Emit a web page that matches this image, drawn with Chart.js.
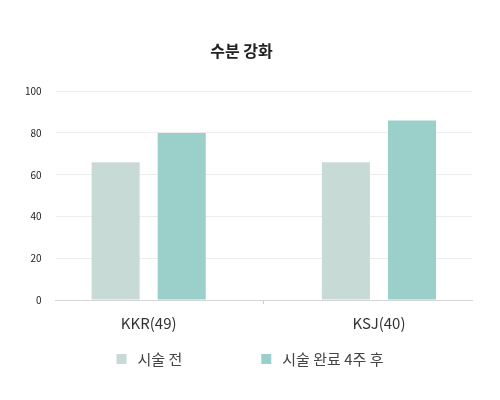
<!DOCTYPE html>
<html>
<head>
<meta charset="utf-8">
<script src="https://cdn.jsdelivr.net/npm/chart.js@4"></script>
<style>
  html, body { margin: 0; padding: 0; background: #fff; }
  #wrap { width: 500px; height: 400px; }
</style>
</head>
<body>
<div id="wrap"><canvas id="chart"></canvas></div>
<script>
const categories = ['KKR(49)', 'KSJ(40)'];
const seriesNames = ['시술 전', '시술 완료 4주 후'];
const beforeValues = [66, 66];
const afterValues = [80, 86];
const seriesColors = ['#c8dad6', '#9ad0c9'];
const yTicks = [0, 20, 40, 60, 80, 100];

const font = "'Noto Sans CJK KR', 'Noto Sans', sans-serif";

// legend drawn by hand: the items sit far apart, more than legend padding allows
const bottomLegend = {
  id: 'bottomLegend',
  afterDraw(chart) {
    const ctx = chart.ctx;
    const sets = chart.data.datasets;
    const box = 10, gapText = 11, gapItem = 79;
    ctx.save();
    ctx.font = '15px ' + font;
    ctx.textBaseline = 'middle';
    const widths = sets.map(d => box + gapText + ctx.measureText(d.label).width);
    const total = widths.reduce((a, b) => a + b, 0) + gapItem * (sets.length - 1);
    let x = chart.width / 2 - total / 2;
    const y = chart.height - 41;
    sets.forEach((d, i) => {
      ctx.fillStyle = d.backgroundColor;
      ctx.fillRect(x, y - box / 2, box, box);
      ctx.fillStyle = '#444';
      ctx.fillText(d.label, x + box + gapText, y);
      x += widths[i] + gapItem;
    });
    ctx.restore();
  }
};

const toPoints = vals => vals.map((v, i) => ({ x: i, y: v }));

new Chart(document.getElementById('chart'), {
  type: 'bar',
  data: {
    datasets: [
      { label: seriesNames[0], data: toPoints(beforeValues), backgroundColor: seriesColors[0],
        barPercentage: 0.727, categoryPercentage: 1.148 },
      { label: seriesNames[1], data: toPoints(afterValues), backgroundColor: seriesColors[1],
        barPercentage: 0.727, categoryPercentage: 1.148 }
    ]
  },
  options: {
    responsive: true,
    maintainAspectRatio: false,
    animation: false,
    layout: { padding: { left: 11, right: 28, top: 0, bottom: 58 } },
    plugins: {
      legend: { display: false },
      tooltip: { enabled: false },
      title: {
        display: true, text: '수분 강화', color: '#222',
        font: { family: font, size: 16, weight: 'bold' },
        padding: { top: 41, bottom: 31 }
      }
    },
    scales: {
      x: {
        type: 'linear', min: -0.404, max: 1.404, offset: false,
        afterBuildTicks: axis => { axis.ticks = [0, 0.5, 1].map(v => ({ value: v })); },
        ticks: {
          callback: v => categories[v] ?? '',
          color: '#333', font: { family: font, size: 15 },
          padding: 10, maxRotation: 0, autoSkip: false
        },
        grid: {
          offset: false, drawOnChartArea: false, tickLength: 4,
          color: c => (c.tick && c.tick.value === 0.5) ? '#cccccc' : 'rgba(0,0,0,0)'
        },
        border: { color: '#d6d6d6' }
      },
      y: {
        min: 0, max: 100,
        afterBuildTicks: axis => { axis.ticks = yTicks.map(v => ({ value: v })); },
        ticks: { color: '#222', font: { family: font, size: 10 }, padding: 14 },
        grid: { color: '#ececec', drawTicks: false },
        border: { display: false }
      }
    }
  },
  plugins: [bottomLegend]
});
</script>
</body>
</html>
